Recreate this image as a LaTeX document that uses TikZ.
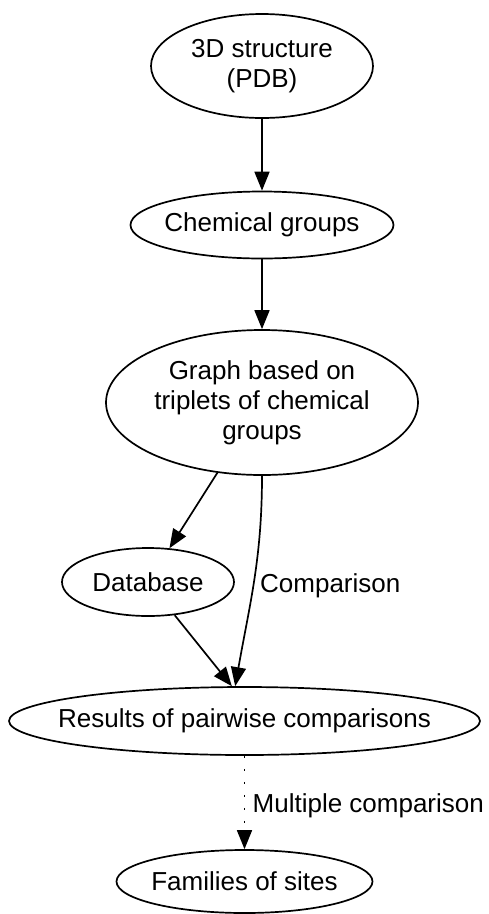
\documentclass[tikz,border=0pt]{standalone}
\usepackage{fontspec}
\setmainfont{Liberation Sans}
\usetikzlibrary{arrows.meta,shapes.geometric}

\begin{document}
\begin{tikzpicture}[x=1pt,y=1pt,->,>={Triangle[length=19pt,width=15pt]},auto,
                line width=1.7pt,font=\fontsize{26}{30}\selectfont,
                main node/.style={ellipse,draw,inner sep=0pt}]

  \useasboundingbox (0,0) rectangle (489,-914);

  \node[main node,minimum width=222pt,minimum height=104pt,
        label={[align=center]center:3D structure\\(PDB)}] (1) at (262,-66) {};
  \node[main node,minimum width=263pt,minimum height=67pt,
        label={center:Chemical groups}] (2) [below of=1,node distance=159pt] {};
  \node[main node,minimum width=312pt,minimum height=145pt,
        label={[align=center]center:Graph based on\\triplets of chemical\\groups}] (3) [below of=2,node distance=177.5pt] {};
  \node[main node,minimum width=172pt,minimum height=68pt,
        label={center:Database}] (4) [below of=3,node distance=179.5pt,xshift=-114pt] {};
  \node[main node,minimum width=471pt,minimum height=68pt,
        label={center:Results of pairwise comparisons}] (5) [below of=3,node distance=318.5pt,xshift=-17.5pt] {};
  \node[main node,minimum width=256pt,minimum height=63pt,
        label={center:Families of sites}] (6) [below of=5,node distance=160.5pt] {};

  \path
    (1) edge (2)
    (2) edge (3)
    (3) edge (4)
        edge [out=-90,in=80] node[right,xshift=2pt,yshift=-4pt] {Comparison} (5.105)
    (4) edge (5.110)
    (5) edge [dash pattern=on 2pt off 11pt] node[right,xshift=4pt,yshift=-3pt] {Multiple comparison} (6);
\end{tikzpicture}
\end{document}
